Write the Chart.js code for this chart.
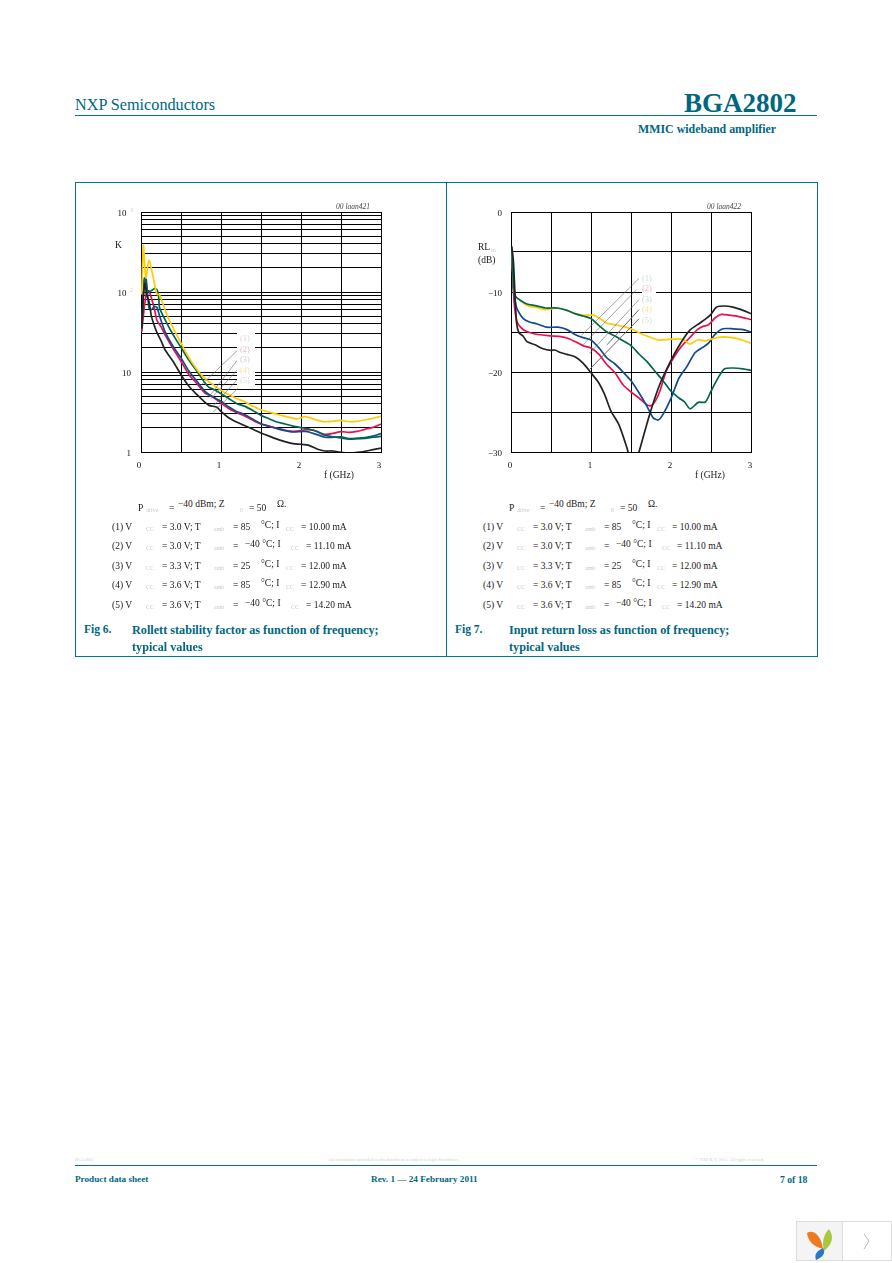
<!DOCTYPE html>
<html><head><meta charset="utf-8">
<script src="https://cdn.jsdelivr.net/npm/chart.js@4"></script>
<style>
html,body{margin:0;padding:0;background:#fff}
body{width:892px;height:1263px;position:relative;overflow:hidden;font-family:"Liberation Serif",serif;color:#111}
canvas{position:absolute}
.t{position:absolute;white-space:nowrap;transform:translateY(-50%);font-size:9.5px;line-height:1}
.teal{color:#00677f;font-weight:bold}
.faint{color:#c9c9c9;font-size:6px}
.r{position:absolute;background:#00748c}
.ink{color:#1a1a1a;font-size:9.5px}
</style></head><body>
<script>
// ---------- data: Fig 6, Rollett stability factor K vs f (GHz) ----------
const kYellowF=[0.01,0.03,0.06,0.1,0.15,0.2,0.23,0.3,0.35,0.5,0.6,0.7,0.8,0.9,1,1.1,1.2,1.3,1.4,1.5,1.6,1.7,1.8,1.9,1.95,2.05,2.1,2.2,2.3,2.4,2.5,2.6,2.7,2.8,2.9,3];
const kYellow=[93,383,150,249,157,93,93,60,45,23,15,10.7,8.25,6.95,5.9,5.2,4.64,4.22,3.72,3.38,3.16,2.96,2.79,2.66,2.59,2.77,2.69,2.51,2.39,2.42,2.49,2.39,2.42,2.51,2.64,2.79];
const kGreenF=[0.01,0.03,0.045,0.07,0.11,0.17,0.2,0.22,0.233,0.3,0.4,0.5,0.6,0.7,0.8,0.85,0.9,1,1.1,1.2,1.3,1.4,1.5,1.6,1.7,1.8,1.9,2,2.1,2.2,2.3,2.4,2.5,2.6,2.7,2.8,2.9,3];
const kGreen=[35,93,150,107,102,110,107,88,63,45,29.3,20.3,14,10.2,7.3,6.43,6.13,5.36,4.64,4.02,3.72,3.29,2.87,2.61,2.37,2.24,2.11,2.02,1.94,1.8,1.62,1.55,1.5,1.45,1.47,1.48,1.53,1.57];
const kBlueF=[0.01,0.03,0.045,0.065,0.1,0.13,0.17,0.2,0.233,0.3,0.4,0.5,0.6,0.7,0.8,0.9,1,1.1,1.2,1.3,1.4,1.5,1.6,1.7,1.8,1.9,2,2.05,2.1,2.2,2.3,2.4,2.5,2.6,2.7,2.8,2.9,3];
const kBlue=[39,93,150,143,63,60,66,64,50,32,21,15,10.2,7.65,5.73,4.87,4.3,3.65,3.19,2.93,2.56,2.26,2.11,1.96,1.85,1.78,1.8,1.81,1.78,1.65,1.53,1.53,1.55,1.47,1.48,1.51,1.58,1.7];
const kRedF=[0.01,0.04,0.07,0.1,0.13,0.17,0.2,0.25,0.3,0.4,0.5,0.6,0.7,0.8,0.9,1,1.1,1.2,1.3,1.4,1.5,1.6,1.7,1.8,1.9,2,2.05,2.15,2.2,2.3,2.4,2.5,2.6,2.7,2.8,2.9,3];
const kRed=[32,63,97,102,84,60,44,37,29.3,19.6,13.6,9.26,7.15,5.46,4.87,4.1,3.48,3.1,2.79,2.49,2.24,2.09,1.98,1.87,1.81,1.85,1.9,1.88,1.8,1.66,1.71,1.8,1.76,1.81,1.92,2.03,2.24];
const kBlackF=[0.01,0.03,0.05,0.07,0.1,0.13,0.17,0.2,0.25,0.3,0.4,0.5,0.6,0.7,0.8,0.85,0.95,1,1.1,1.2,1.3,1.4,1.5,1.6,1.7,1.8,1.9,2,2.1,2.2,2.3,2.4,2.47,2.6,2.75,2.8,2.9,3];
const kBlack=[35,93,129,93,76,50,37,31,24.6,19,13.6,9.26,6.62,5.2,4.18,3.83,3.62,3.22,2.66,2.35,2.13,1.92,1.73,1.58,1.45,1.35,1.27,1.25,1.21,1.09,1.03,1.03,1,0.97,1,1.02,1.07,1.12];
// ---------- data: Fig 7, input return loss RLin (dB) vs f (GHz) ----------
const rlBlackF=[0.01,0.03,0.05,0.07,0.1,0.15,0.2,0.3,0.4,0.5,0.55,0.6,0.7,0.8,0.9,1,1.1,1.17,1.25,1.35,1.45,1.47,1.5,1.55,1.6,1.733,1.858,1.983,2.108,2.233,2.358,2.442,2.5,2.567,2.67,2.775,2.9,3];
const rlBlack=[-4.29,-6.17,-10.33,-13.88,-15.1,-15.5,-16.2,-16.6,-17.1,-17.3,-17.25,-17.5,-17.8,-18.1,-18.9,-20.1,-21.4,-22.8,-24.9,-26.6,-29.5,-30.3,-31.5,-31.5,-30,-25.3,-21.6,-18.9,-16.6,-14.8,-13.9,-13.3,-12.8,-11.9,-11.75,-11.9,-12.3,-12.7];
const rlRedF=[0.01,0.03,0.05,0.075,0.11,0.17,0.3,0.5,0.6,0.7,0.8,0.9,1,1.1,1.2,1.3,1.4,1.5,1.6,1.7,1.75,1.8,1.86,1.94,2.03,2.13,2.23,2.33,2.4,2.47,2.55,2.63,2.73,2.86,3];
const rlRed=[-4.7,-9.9,-12.4,-13.7,-14.3,-14.8,-15.25,-15.5,-15.55,-15.75,-16.2,-16.7,-17,-17.8,-19.1,-20.1,-21.6,-22.5,-23.25,-24.1,-24.2,-23.7,-22.4,-19.9,-18.25,-16.8,-15.75,-14.7,-14.3,-14.1,-13.25,-12.8,-12.9,-13.1,-13.45];
const rlBlueF=[0.01,0.03,0.06,0.09,0.15,0.23,0.33,0.44,0.59,0.7,0.8,0.9,1,1.1,1.2,1.3,1.4,1.5,1.6,1.7,1.775,1.84,1.9,2,2.1,2.2,2.3,2.4,2.47,2.55,2.65,2.78,2.9,3];
const rlBlue=[-4.7,-9.5,-11.6,-12.4,-13.3,-13.75,-14,-14.4,-14.4,-14.7,-15.3,-15.7,-16,-17,-18.25,-19,-20,-21.1,-22.6,-24.3,-25.7,-26,-25.3,-23.3,-20.75,-19.3,-17.6,-16.9,-16.4,-15.3,-14.6,-14.6,-14.7,-15];
const rlGreenF=[0.01,0.03,0.055,0.11,0.2,0.3,0.43,0.575,0.7,0.8,0.9,1,1.1,1.2,1.3,1.4,1.5,1.6,1.7,1.8,1.9,2,2.1,2.17,2.24,2.34,2.43,2.5,2.59,2.67,2.78,2.9,3];
const rlGreen=[-4.7,-8.7,-10.5,-11,-11.5,-11.7,-12,-12,-12.3,-12.7,-13,-13.3,-14.2,-15,-15.5,-16.1,-16.7,-17.75,-18.7,-19.9,-21.1,-22.4,-23.25,-23.75,-24.6,-23.8,-23.75,-22.4,-20.7,-19.6,-19.5,-19.6,-19.8];
const rlYellowF=[0.01,0.03,0.055,0.11,0.2,0.3,0.43,0.575,0.7,0.8,0.9,1.03,1.1,1.2,1.3,1.4,1.5,1.6,1.7,1.84,2,2.15,2.23,2.33,2.43,2.55,2.67,2.82,3];
const rlYellow=[-4.7,-8.7,-10.5,-11,-11.7,-11.9,-12.2,-12,-12.3,-12.7,-12.9,-12.9,-13.25,-13.9,-14.1,-14.3,-14.6,-15.1,-15.5,-16,-15.9,-15.9,-16.5,-16,-16.1,-15.75,-15.6,-15.8,-16.4];
// ---------- axes ----------
const freqTicks=[0,0.5,1,1.5,2,2.5,3];
const kGrid=[1,2,3,4,5,6,7,8,9,10,20,30,40,50,60,70,80,90,100,200,300,400,500,600,700,800,900,1000];
const rlGrid=[0,-5,-10,-15,-20,-25,-30];
const seriesNames=["(1)","(2)","(3)","(4)","(5)"];
// leader lines, in data units [f1,y1,f2,y2]
const kLeaders=[[0.733,6.6,1.213,18.9],[0.838,4.75,1.213,14.4],[0.871,4.6,1.213,10.9],[0.9,3.7,1.213,8.25],[0.9,3.15,1.213,6.25]];
const rlLeaders=[[0.883,-15.4,1.6,-8.3],[0.9,-16.6,1.57,-9.7],[0.98,-17.7,1.6,-10.95],[1.2,-16.6,1.6,-12.2],[0.98,-19.7,1.6,-13.35]];

const COL={black:"#222222",red:"#e8104f",blue:"#124a90",green:"#00664c",yellow:"#ffcc00"};
function pts(xs,ys){return xs.map((x,i)=>({x:x,y:ys[i]}));}
function ds(label,c,xs,ys){return {label:label,data:pts(xs,ys),borderColor:c,borderWidth:1.7,pointRadius:0,tension:0.25,clip:0,fill:false};}
const leaderPlugin={id:"leaders",afterDatasetsDraw(c,a,o){
  const g=c.ctx,X=c.scales.x,Y=c.scales.y;g.save();g.strokeStyle="#666";
  o.lines.forEach((l,i)=>{g.lineWidth=(o.heavy&&i>2)?1:0.6;g.beginPath();g.moveTo(X.getPixelForValue(l[0]),Y.getPixelForValue(l[1]));g.lineTo(X.getPixelForValue(l[2]),Y.getPixelForValue(l[3]));g.stroke();});
  g.restore();}};
function mk(left,datasets,yScale,leaders,heavy,xOff){
  const cv=document.createElement("canvas");cv.style.left=left+"px";cv.style.top="195px";cv.style.width="300px";cv.style.height="290px";cv.width=300;cv.height=290;
  document.body.appendChild(cv);
  return new Chart(cv,{type:"line",data:{datasets:datasets},plugins:[leaderPlugin],options:{
    responsive:false,animation:false,devicePixelRatio:window.devicePixelRatio||1,
    layout:{padding:{left:0,top:17,right:19,bottom:0}},
    plugins:{legend:{display:false},title:{display:false},tooltip:{enabled:false},leaders:{lines:leaders,heavy:heavy}},
    scales:{
      x:{type:"linear",min:0,max:3,afterFit(s){s.height=33;},afterBuildTicks(s){s.ticks=freqTicks.map(v=>({value:v}));},
        grid:{color:"#000",lineWidth:1,drawTicks:false},border:{color:"#000",width:1},
        ticks:{autoSkip:false,maxRotation:0,padding:8,labelOffset:xOff,color:"#111",font:{family:"Liberation Serif",size:9},callback:v=>Number.isInteger(v)?String(v):""}},
      y:yScale}}});
}
mk(100,[
  ds("(5)",COL.black,kBlackF,kBlack),
  ds("(4)",COL.yellow,kYellowF,kYellow),
  ds("(3)",COL.green,kGreenF,kGreen),
  ds("(2)",COL.blue,kBlueF,kBlue),
  ds("(1)",COL.red,kRedF,kRed)],
  {type:"logarithmic",min:1,max:1000,afterFit(s){s.width=41;},afterBuildTicks(s){s.ticks=kGrid.map(v=>({value:v}));},
   grid:{color:"#000",lineWidth:1,drawTicks:false},border:{color:"#000",width:1},
   ticks:{autoSkip:false,padding:10,labelOffset:2,color:"#111",font:{family:"Liberation Serif",size:9},
     callback:v=>v===1?"1":v===10?"10":(v===100||v===1000)?"10\u2002":""}},kLeaders,false,-2);
mk(470,[
  ds("(5)",COL.black,rlBlackF,rlBlack),
  ds("(4)",COL.green,rlGreenF,rlGreen),
  ds("(3)",COL.yellow,rlYellowF,rlYellow),
  ds("(2)",COL.blue,rlBlueF,rlBlue),
  ds("(1)",COL.red,rlRedF,rlRed)],
  {type:"linear",min:-30,max:0,afterFit(s){s.width=41;},afterBuildTicks(s){s.ticks=rlGrid.map(v=>({value:v}));},
   grid:{color:"#000",lineWidth:1,drawTicks:false},border:{color:"#000",width:1},
   ticks:{autoSkip:false,padding:9,labelOffset:2,color:"#111",font:{family:"Liberation Serif",size:9},
     callback:v=>v%10===0?(v===0?"0":"\u2212"+Math.abs(v)):""}},rlLeaders,true,-1);

// ---------- page furniture ----------
function rule(x,y,w,h){const d=document.createElement("div");d.className="r";d.style.cssText+=`left:${x}px;top:${y}px;width:${w}px;height:${h}px`;document.body.appendChild(d);}
function txt(s,x,y,css,cls){const d=document.createElement("div");d.className="t "+(cls||"");d.textContent=s;d.style.left=x+"px";d.style.top=y+"px";if(css)d.style.cssText+=css;document.body.appendChild(d);return d;}
function patch(x,y,w,h){const d=document.createElement("div");d.style.cssText=`position:absolute;background:#fff;left:${x}px;top:${y}px;width:${w}px;height:${h}px`;document.body.appendChild(d);}
rule(75,115,742,1);rule(75,182,742,1);rule(75,656,742,1);rule(75,182,1,475);rule(817,182,1,475);rule(446,182,1,475);rule(75,1165,742,1);
txt("NXP Semiconductors",75,105,"font-size:16.2px;font-weight:normal;color:#00677f");
txt("BGA2802",684,103,"font-size:27px;font-weight:bold;color:#00677f");
txt("MMIC wideband amplifier",638,130,"font-size:11.9px","teal");
txt("00 laan421",336,207,"font-size:7.5px;font-style:italic;color:#444");
txt("00 laan422",707,207,"font-size:7.5px;font-style:italic;color:#444");
txt("3",130,210,"","faint");txt("2",130,290,"","faint");
txt("K",115,246,"","ink");
txt("RL",478,248,"","ink");txt("in",491,250,"","faint");txt("(dB)",478,261,"","ink");
txt("f (GHz)",324,476,"","ink");txt("f (GHz)",695,476,"","ink");
patch(237,333,18,52);patch(642,284,14,10);
const lc=["#d8d8d8","#f3b4c8","#cfcfcf","#fbe3a0","#dcdcdc"];
[338,349,359,370,380].forEach((y,i)=>txt(seriesNames[i],240,y,`color:${lc[i]};font-size:8.5px`));
[278,288,299,309,320].forEach((y,i)=>txt(seriesNames[i],642,y,`color:${lc[i]};font-size:8.5px`));
function legend(o){
  txt("P",138+o,509,"","ink");txt("drive",146+o,510,"","faint");txt("=",169+o,509,"","ink");txt("\u221240 dBm; Z",178+o,505,"","ink");txt("0",240+o,510,"","faint");txt("= 50",249+o,509,"","ink");txt("\u03a9.",277+o,505,"","ink");
  const rows=[["(1) V","3.0","85",528,"10.00 mA"],["(2) V","3.0","\u221240",547,"11.10 mA"],["(3) V","3.3","25",567,"12.00 mA"],["(4) V","3.6","85",586,"12.90 mA"],["(5) V","3.6","\u221240",606,"14.20 mA"]];
  rows.forEach(r=>{const y=r[3],neg=r[2][0]==="\u2212";
    txt(r[0],112+o,y,"","ink");txt("CC",146+o,y+1,"","faint");txt("= "+r[1]+" V; T",162+o,y,"","ink");txt("amb",214+o,y+1,"","faint");
    if(neg){txt("=",233+o,y,"","ink");txt(r[2]+" \u00b0C; I",245+o,y-2,"","ink");txt("CC",291+o,y+1,"","faint");txt("= "+r[4],306+o,y,"","ink");}
    else{txt("= "+r[2],233+o,y,"","ink");txt("\u00b0C; I",261+o,y-2,"","ink");txt("CC",286+o,y+1,"","faint");txt("= "+r[4],301+o,y,"","ink");}
  });
}
legend(0);legend(371);
txt("Fig 6.",84,630,"font-size:11.5px","teal");txt("Rollett stability factor as function of frequency;",132,630,"font-size:12.2px","teal");txt("typical values",132,647,"font-size:12.2px","teal");
txt("Fig 7.",455,630,"font-size:11.5px","teal");txt("Input return loss as function of frequency;",509,630,"font-size:12.2px","teal");txt("typical values",509,647,"font-size:12.2px","teal");
txt("BGA2802",75,1160,"font-size:4.5px;color:#cfcfcf");
txt("All information provided in this document is subject to legal disclaimers.",328,1160,"font-size:4.5px;color:#cfcfcf");
txt("\u00a9 NXP B.V. 2011. All rights reserved.",695,1160,"font-size:4.5px;color:#cfcfcf");
txt("Product data sheet",75,1180,"font-size:9.2px","teal");
txt("Rev. 1 \u2014 24 February 2011",371,1180,"font-size:9.2px","teal");
txt("7 of 18",780,1180,"font-size:9.7px","teal");
const w=document.createElement("div");
w.style.cssText="position:absolute;left:796px;top:1221px;width:96px;height:40px;";
w.innerHTML='<svg width="96" height="40" xmlns="http://www.w3.org/2000/svg"><rect x="0.5" y="0.5" width="46" height="39" fill="#f4f4f4" stroke="#dddddd"/><rect x="46.5" y="0.5" width="49" height="39" fill="#fff" stroke="#dddddd"/><path d="M11 12C17 8 25 14 27 28C19 26 12 21 11 12Z" fill="#ee7a22"/><path d="M33 8C38 15 37 23 28 30C26 22 27 14 33 8Z" fill="#a9c83f"/><path d="M27 27C30 32 27 36 20 39C18 33 21 30 27 27Z" fill="#2a78c4"/><path d="M68 13L73 20L68 28" fill="none" stroke="#bbbbbb" stroke-width="1"/></svg>';
document.body.appendChild(w);
</script>
</body></html>
